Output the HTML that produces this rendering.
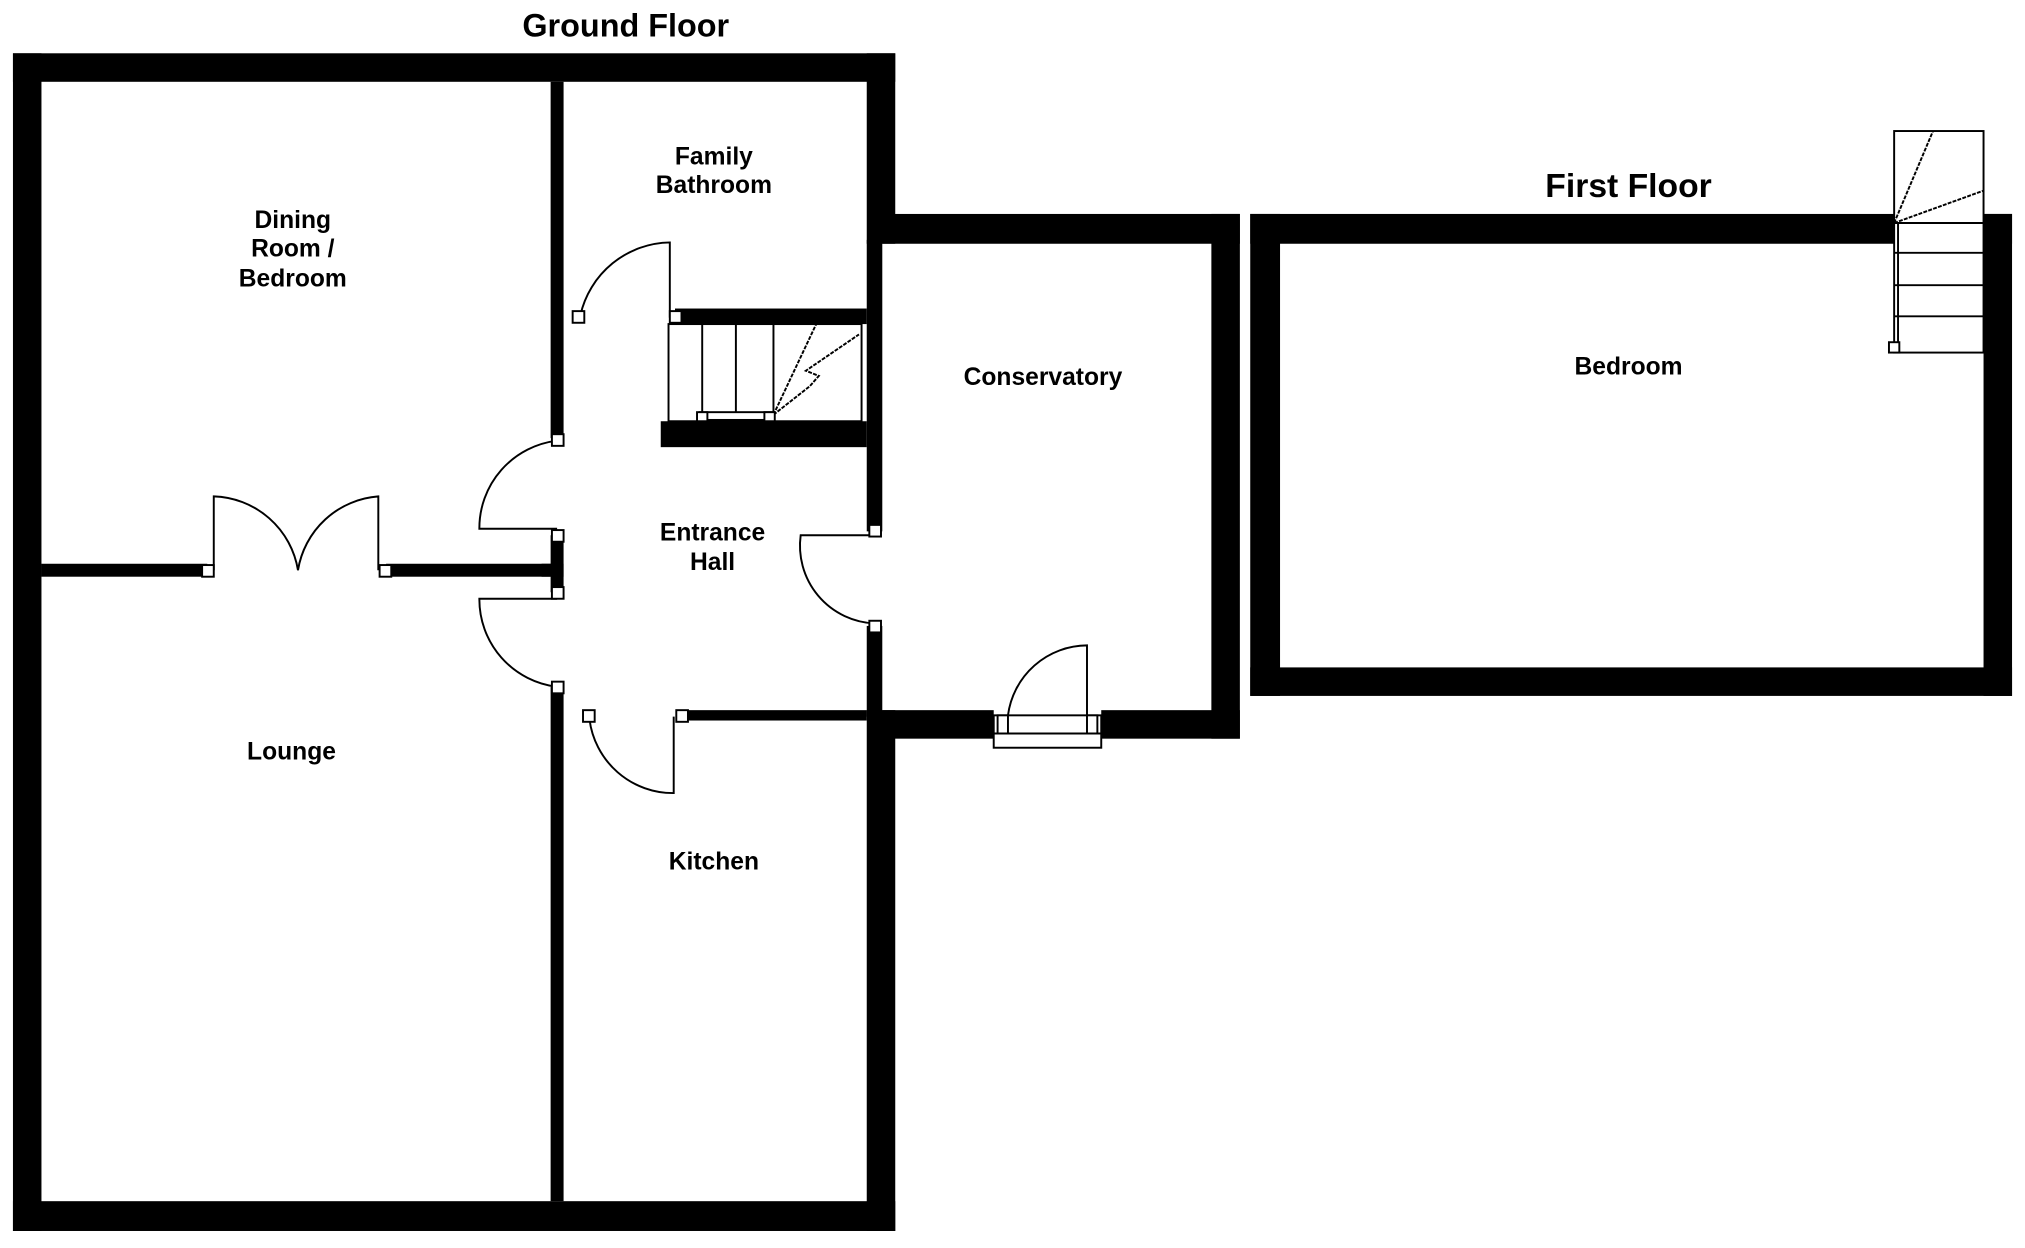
<!DOCTYPE html>
<html><head><meta charset="utf-8"><style>
html,body{margin:0;padding:0;background:#fff;}
svg{display:block;}
text{font-family:"Liberation Sans",sans-serif;font-weight:bold;fill:#000;text-anchor:middle;}
</style></head><body>
<svg width="2025" height="1248" viewBox="0 0 1563 963" xmlns="http://www.w3.org/2000/svg">
<rect width="1563" height="963" fill="#fff"/>
<g fill="#000">
<!-- ground floor outer -->
<rect x="10" y="41" width="681" height="22"/>
<rect x="10" y="41" width="22" height="909"/>
<rect x="10" y="927" width="681" height="23"/>
<rect x="669" y="41" width="22" height="147"/>
<rect x="669" y="548" width="22" height="402"/>
<!-- hall/conservatory wall -->
<rect x="669" y="185" width="12" height="225"/>
<rect x="669" y="483" width="12" height="70"/>
<!-- conservatory -->
<rect x="681" y="165" width="276" height="23"/>
<rect x="935" y="165" width="22" height="405"/>
<rect x="681" y="548" width="86" height="22"/>
<rect x="850" y="548" width="107" height="22"/>
<!-- interior vertical -->
<rect x="425" y="63" width="10" height="275"/>
<rect x="425" y="413" width="10" height="44"/>
<rect x="425" y="530" width="10" height="397"/>
<rect x="418" y="435" width="17" height="10"/>
<!-- dining/lounge wall -->
<rect x="32" y="435" width="128" height="10"/>
<rect x="298" y="435" width="127" height="10"/>
<!-- stairs walls -->
<rect x="521" y="238" width="148" height="12"/>
<rect x="510" y="325" width="159" height="20"/>
<!-- kitchen top wall -->
<rect x="527" y="548" width="142" height="8"/>
<!-- first floor -->
<rect x="965" y="165" width="588" height="23"/>
<rect x="965" y="165" width="23" height="372"/>
<rect x="965" y="515" width="588" height="22"/>
<rect x="1531" y="165" width="22" height="372"/>
</g>
<g fill="none" stroke="#000" stroke-width="1.5">
<!-- stairs ground -->
<rect x="516" y="250" width="149" height="75" fill="#fff"/>
<line x1="542" y1="250" x2="542" y2="320"/>
<line x1="568" y1="250" x2="568" y2="320"/>
<line x1="597" y1="250" x2="597" y2="320"/>
<line x1="597" y1="320" x2="630" y2="250" stroke-dasharray="3,1"/>
<polyline points="597,320 625,298 632,290 622,286 663,258" stroke-dasharray="3,1"/>
<rect x="540" y="318" width="57" height="6" fill="#fff"/>
<!-- bathroom door -->
<path d="M448,243 A72,72 0 0 1 517,187 L517,245"/>
<!-- dining door -->
<path d="M430,340 A68,68 0 0 0 370,408 L430,408"/>
<!-- lounge door -->
<path d="M430,530 A68,68 0 0 1 370,462 L430,462"/>
<!-- kitchen door -->
<path d="M455,555 A65,65 0 0 0 520,612 L520,553"/>
<!-- conservatory door from hall -->
<path d="M675,413 L618,413 A60,60 0 0 0 675,481"/>
<!-- double doors -->
<path d="M165,440 L165,383 A68,68 0 0 1 230,440"/>
<path d="M292,440 L292,383 A68,68 0 0 0 230,440"/>
<!-- conservatory outside door -->
<path d="M778,552 A62,62 0 0 1 839,498 L839,552"/>
<rect x="767" y="566" width="83" height="11" fill="#fff"/>
<rect x="767" y="552" width="83" height="14" fill="none"/>
<!-- first floor stairs -->
<rect x="1462" y="101" width="69" height="171" fill="#fff"/>
<line x1="1462" y1="172" x2="1531" y2="172"/>
<line x1="1462" y1="195" x2="1531" y2="195"/>
<line x1="1462" y1="220" x2="1531" y2="220"/>
<line x1="1462" y1="244" x2="1531" y2="244"/>
<line x1="1462" y1="172" x2="1492" y2="101" stroke-dasharray="3,1"/>
<line x1="1462" y1="172" x2="1531" y2="147" stroke-dasharray="3,1"/>
<line x1="1465" y1="172" x2="1465" y2="268"/>
</g>
<g fill="#fff" stroke="#000" stroke-width="1.5">
<rect x="442" y="240" width="9" height="9"/>
<rect x="517" y="240" width="9" height="9"/>
<rect x="426" y="335" width="9" height="9"/>
<rect x="426" y="409" width="9" height="9"/>
<rect x="426" y="453" width="9" height="9"/>
<rect x="426" y="526" width="9" height="9"/>
<rect x="450" y="548" width="9" height="9"/>
<rect x="522" y="548" width="9" height="9"/>
<rect x="671" y="405" width="9" height="9"/>
<rect x="671" y="479" width="9" height="9"/>
<rect x="156" y="436" width="9" height="9"/>
<rect x="293" y="436" width="9" height="9"/>
<rect x="538" y="318" width="8" height="7"/>
<rect x="590" y="318" width="8" height="7"/>
<rect x="770" y="552" width="8" height="14"/>
<rect x="839" y="552" width="8" height="14"/>
<rect x="1458" y="264" width="8" height="8"/>
</g>
<text x="483" y="28" font-size="25">Ground Floor</text>
<text x="1257" y="152" font-size="26">First Floor</text>
<g font-size="19">
<text x="226" y="176">Dining</text>
<text x="226" y="198">Room /</text>
<text x="226" y="221">Bedroom</text>
<text x="551" y="127">Family</text>
<text x="551" y="149">Bathroom</text>
<text x="805" y="297">Conservatory</text>
<text x="550" y="417">Entrance</text>
<text x="550" y="440">Hall</text>
<text x="225" y="586">Lounge</text>
<text x="551" y="671">Kitchen</text>
<text x="1257" y="289">Bedroom</text>
</g>
</svg>
</body></html>
